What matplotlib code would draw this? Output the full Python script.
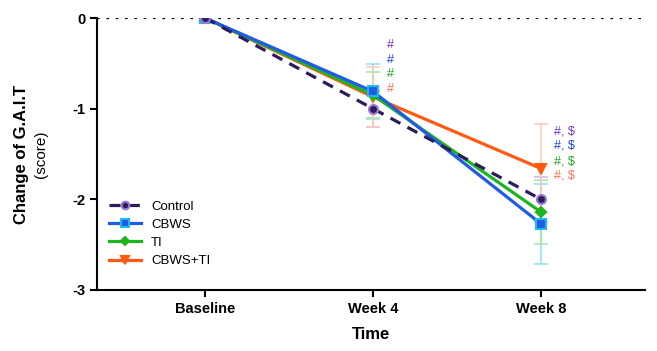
import matplotlib
matplotlib.use("Agg")
import matplotlib.pyplot as plt
import numpy as np

plt.rcParams['font.family'] = ['Liberation Sans', 'DejaVu Sans']

timepoints = ["Baseline", "Week 4", "Week 8"]
control = [0, -1.00, -2.00]
cbws = [0, -0.81, -2.27]
ti = [0, -0.85, -2.14]
cbws_ti = [0, -0.87, -1.66]
control_err = [0, 0.20, 0.25]
cbws_err = [0, 0.30, 0.44]
ti_err = [0, 0.25, 0.35]
cbws_ti_err = [0, 0.33, 0.49]
sig_w4 = ["#", "#", "#", "#"]
sig_w8 = ["#, $", "#, $", "#, $", "#, $"]

fig = plt.figure(figsize=(6.57, 3.51), dpi=100)
ax = fig.add_axes([0.1476, 0.1738, 0.8344, 0.7749])
x = np.arange(len(timepoints))

series = [
    ("Control", control, control_err, "#2D1B5A", "#C9B6EC", "o", "--", "#9A7BD0", 6),
    ("CBWS", cbws, cbws_err, "#1F5CE6", "#8FDDF7", "s", "-", "#1FB9F0", 5),
    ("TI", ti, ti_err, "#1DB51D", "#A5E6A5", "D", "-", "#1DB51D", 4),
    ("CBWS+TI", cbws_ti, cbws_ti_err, "#FF5A12", "#FFC8B4", "v", "-", "#FF5A12", 3),
]
ann_colors = ["#7A2FBF", "#1F3FE6", "#1DA81D", "#FF6A50"]

for name, vals, err, col, ecol, mk, ls, medge, z in series:
    ax.errorbar(x, vals, yerr=err, fmt='none', ecolor=ecol, elinewidth=1.1,
                capsize=5, capthick=1.1, zorder=2)
for name, vals, err, col, ecol, mk, ls, medge, z in series:
    ms = 6.5 if mk != "D" else 5
    ax.plot(x, vals, linestyle=ls, color=col, linewidth=2.3, marker=mk,
            markersize=ms, markerfacecolor=col, markeredgecolor=medge,
            markeredgewidth=1.5, label=name, zorder=z,
            dashes=(3.5, 2.5) if ls == "--" else (None, None))

ax.axhline(0, color='black', linestyle=(0, (1.2, 3)), linewidth=1.6, zorder=1)

ys4 = [-0.30, -0.46, -0.62, -0.78]
ys8 = [-1.25, -1.41, -1.58, -1.74]
for i in range(4):
    ax.text(1.08, ys4[i], sig_w4[i], color=ann_colors[i], fontsize=9,
            ha='left', va='center')
    ax.text(2.08, ys8[i], sig_w8[i], color=ann_colors[i], fontsize=9,
            ha='left', va='center')

ax.set_xlim(-0.643, 2.62)
ax.set_ylim(-3, 0)
ax.set_yticks([0, -1, -2, -3])
ax.set_yticklabels(["0", "-1", "-2", "-3"])
ax.set_xticks(x)
ax.set_xticklabels(timepoints)
for lab in ax.get_xticklabels() + ax.get_yticklabels():
    lab.set_fontweight('bold')
    lab.set_fontsize(10.5)
ax.tick_params(axis='both', width=1.5, length=5, color='black')
for s in ['top', 'right']:
    ax.spines[s].set_visible(False)
for s in ['left', 'bottom']:
    ax.spines[s].set_linewidth(1.5)

ax.set_xlabel("Time", fontweight='bold', fontsize=12, labelpad=8)
fig.text(0.033, 0.56, "Change of G.A.I.T", rotation=90, fontweight='bold',
         fontsize=12, ha='center', va='center')
fig.text(0.062, 0.56, "(score)", rotation=90, fontsize=11,
         ha='center', va='center')

ax.legend(loc='lower left', bbox_to_anchor=(0.0, 0.04), frameon=False,
          fontsize=9.5, handlelength=2.4, labelspacing=0.45, markerscale=0.85)

fig.savefig("out.png", dpi=100)
